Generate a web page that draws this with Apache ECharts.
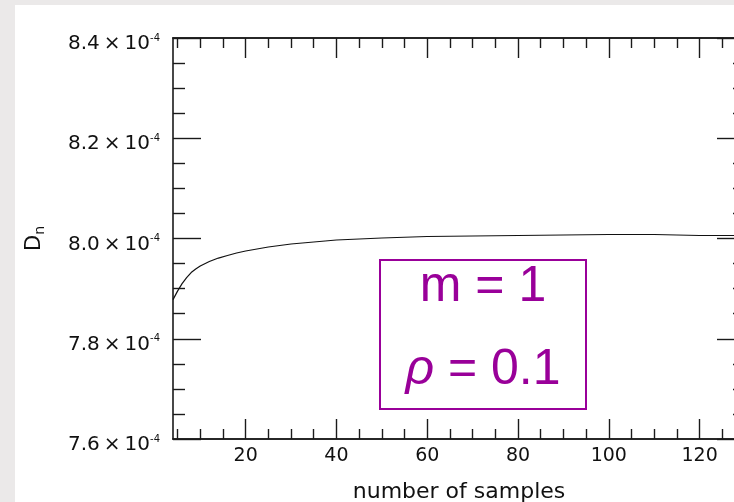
<!DOCTYPE html>
<html>
<head>
<meta charset="utf-8">
<script src="https://cdn.jsdelivr.net/npm/echarts@6/dist/echarts.min.js"></script>
<style>
html,body{margin:0;padding:0;background:#ebe9e9;}
#c{width:734px;height:502px;}
</style>
</head>
<body>
<div id="c"></div>
<script>
// number of samples (x) and D_n values in units of 1e-4 (y)
const sampleCounts = [4,5,6,7,8,9,10,12,14,16,18,20,25,30,35,40,45,50,60,70,80,90,100,110,115,120,130];
const dnValues = [7.878,7.895,7.910,7.922,7.932,7.939,7.945,7.954,7.961,7.966,7.971,7.975,7.983,7.989,7.993,7.997,7.999,8.001,8.004,8.005,8.006,8.007,8.008,8.008,8.007,8.006,8.006];
const xMajorTicks = [20,40,60,80,100,120];
const xMinorTicks = [5,10,15,25,30,35,45,50,55,65,70,75,85,90,95,105,110,115,125];
const yTickLabels = [7.6,7.8,8.0,8.2,8.4];
const boxLine1 = 'm = 1';
const boxLine2 = ' = 0.1';

const chart = echarts.init(document.getElementById('c'), null, {renderer:'canvas'});
const axCol = '#1a1a1a';
const font = 'DejaVu Sans';

function xAxisDef(pos, ticks, len, labels){
  return {
    type:'value', position:pos, min:4, max:130, gridIndex:0,
    axisLine:{show:true, lineStyle:{color:axCol, width:1.6}},
    axisTick:{show:true, inside:true, length:len, customValues:ticks, lineStyle:{color:axCol, width:1.4}},
    axisLabel: labels ? {show:true, customValues:xMajorTicks, color:'#111', fontFamily:font, fontSize:19, margin:8} : {show:false},
    splitLine:{show:false},
    name: (labels ? 'number of samples' : ''),
    nameLocation:'middle', nameGap:42,
    nameTextStyle:{color:'#111', fontFamily:font, fontSize:22}
  };
}
function yAxisDef(pos, labels){
  return {
    type:'value', position:pos, min:7.6, max:8.4, interval:0.2, gridIndex:0,
    axisLine:{show:true, lineStyle:{color:axCol, width:1.6}},
    axisTick:{show:true, inside:true, length:28, lineStyle:{color:axCol, width:1.4}},
    minorTick:{show:true, splitNumber:4, length:12, lineStyle:{color:axCol, width:1.4}},
    axisLabel: labels ? {
      show:true, margin:13, padding:[12,0,0,0],
      customValues: yTickLabels,
      formatter: v => '{m|' + v.toFixed(1) + '\u2009×\u200910}{s|-4}',
      rich:{
        m:{fontFamily:font, fontSize:20, color:'#111', lineHeight:22},
        s:{fontFamily:font, fontSize:10, color:'#111', lineHeight:10, verticalAlign:'top'}
      }
    } : {show:false},
    splitLine:{show:false},
    name: labels ? '{d|D}{n|n}' : '',
    nameLocation:'middle', nameRotate:90, nameGap:126,
    nameTextStyle:{
      rich:{
        d:{fontFamily:font, fontSize:21, color:'#111', lineHeight:24},
        n:{fontFamily:font, fontSize:14, color:'#111', lineHeight:10, verticalAlign:'bottom'}
      }
    }
  };
}

const option = {
  backgroundColor:'#ebe9e9',
  animation:false,
  grid:{left:173, top:38, width:572, height:401, containLabel:false, outerBoundsMode:'none'},
  xAxis:[
    xAxisDef('bottom', xMajorTicks, 20, true),
    xAxisDef('bottom', xMinorTicks, 10, false),
    xAxisDef('top', xMajorTicks, 20, false),
    xAxisDef('top', xMinorTicks, 10, false)
  ],
  yAxis:[ yAxisDef('left', true), yAxisDef('right', false) ],
  graphic:[
    {type:'rect', z:-10, shape:{x:15, y:5, width:730, height:510}, style:{fill:'#ffffff'}, silent:true},
    {type:'rect', z:100, shape:{x:380, y:260, width:206, height:149}, style:{fill:'#ffffff', stroke:'#990099', lineWidth:2}},
    {type:'text', z:101, style:{text:boxLine1, x:483, y:287, align:'center', verticalAlign:'middle',
      font:'50px "Liberation Sans", Arial, sans-serif', fill:'#990099'}},
    {type:'text', z:101, style:{text:'{i|ρ}{r|' + boxLine2 + '}', x:483, y:370, align:'center', verticalAlign:'middle',
      rich:{
        i:{fontFamily:'Liberation Sans', fontStyle:'italic', fontSize:50, fill:'#990099', color:'#990099'},
        r:{fontFamily:'Liberation Sans', fontSize:50, fill:'#990099', color:'#990099'}
      }}}
  ],
  series:[{
    type:'line', xAxisIndex:0, yAxisIndex:0,
    data: sampleCounts.map((n,i)=>[n, dnValues[i]]),
    showSymbol:false, symbol:'none', smooth:false,
    lineStyle:{color:'#111', width:1.2},
    z:5
  }]
};
chart.setOption(option);
</script>
</body>
</html>
